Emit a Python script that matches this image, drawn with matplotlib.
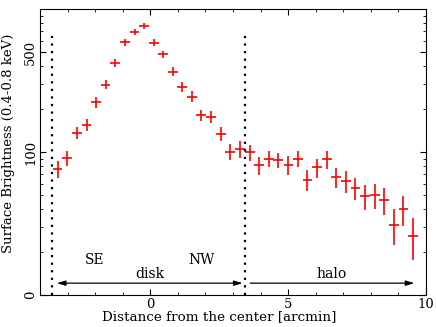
import numpy as np
import matplotlib
matplotlib.use('Agg')
import matplotlib.pyplot as plt
from matplotlib.ticker import MultipleLocator, FixedLocator, NullFormatter, LogLocator

plt.rcParams['font.family'] = ['DejaVu Serif']

# Surface brightness profile
distance = [-3.36, -3.01, -2.66, -2.31, -1.97, -1.62, -1.27, -0.92, -0.57, -0.22,
            0.13, 0.47, 0.82, 1.16, 1.51, 1.85, 2.20, 2.56, 2.90, 3.25,
            3.62, 3.94, 4.31, 4.64, 5.01, 5.35, 5.70, 6.05, 6.41, 6.74,
            7.10, 7.44, 7.79, 8.14, 8.48, 8.84, 9.18, 9.54]
brightness = [76, 91, 136, 155, 223, 296, 421, 585, 690, 761,
              581, 484, 364, 285, 244, 181, 176, 134, 100.5, 105,
              99.5, 81, 90, 88, 81.5, 90, 64, 78, 89, 67,
              63, 56, 49, 50, 46, 31, 40, 26]
brightness_err = [10.4, 11, 13.5, 15, 20, 22, 28, 31, 32, 35,
                  31, 28, 26, 24, 22, 17, 16.5, 15, 13, 13.5,
                  12.5, 12, 12, 11, 13, 12, 11, 11.7, 12.5, 10.7,
                  11, 10, 10, 10, 9.6, 8.7, 9.5, 8.5]
half_bin = 0.175

disk_edges = [-3.55, 3.43]
ytick_vals = [10, 100, 500]
ytick_labels = ['0', '100', '500']

fig = plt.figure(figsize=(4.36, 3.27), dpi=100)
ax = fig.add_axes([40/436, 1-295/327, 386/436, 286/327])

ax.errorbar(distance, brightness, xerr=half_bin, yerr=brightness_err,
            fmt='none', ecolor='red', elinewidth=1.2, capsize=0)

# disk boundaries
for xe in disk_edges:
    ax.plot([xe, xe], [10, 680], color='black', lw=1.6,
            linestyle=(0, (1, 2.4)), dash_capstyle='butt')

# arrows
ax.annotate('', xy=(-3.39, 12.1), xytext=(3.35, 12.1),
            arrowprops=dict(arrowstyle='<|-|>,head_length=0.5,head_width=0.15',
                            color='black', lw=0.9, shrinkA=0, shrinkB=0))
ax.annotate('', xy=(9.58, 12.1), xytext=(3.62, 12.1),
            arrowprops=dict(arrowstyle='-|>,head_length=0.5,head_width=0.15',
                            color='black', lw=0.9, shrinkA=0, shrinkB=0))

ax.text(-2.0, 17.6, 'SE', ha='center', va='center', fontsize=10)
ax.text(1.87, 17.6, 'NW', ha='center', va='center', fontsize=10)
ax.text(0.0, 14.0, 'disk', ha='center', va='center', fontsize=10)
ax.text(6.58, 14.0, 'halo', ha='center', va='center', fontsize=10)

ax.set_yscale('log')
ax.set_xlim(-4, 10)
ax.set_ylim(10, 1000)

ax.xaxis.set_major_locator(MultipleLocator(5))
ax.xaxis.set_minor_locator(MultipleLocator(1))
ax.yaxis.set_major_locator(FixedLocator(ytick_vals))
ax.yaxis.set_minor_locator(LogLocator(base=10, subs=np.arange(2, 10)))
ax.yaxis.set_minor_formatter(NullFormatter())
ax.set_yticklabels(ytick_labels, rotation=90, va='center')

ax.tick_params(which='both', direction='in', top=True, right=True, labelsize=9.5, pad=2)
ax.tick_params(which='major', length=4)
ax.tick_params(which='minor', length=2.5)

ax.set_xlabel('Distance from the center [arcmin]', fontsize=9.7)
ax.set_ylabel('Surface Brightness (0.4-0.8 keV)', fontsize=9.5)
ax.xaxis.set_label_coords(0.465, -0.052)
ax.yaxis.set_label_coords(-0.066, 0.531)

fig.savefig('out.png', dpi=100)
